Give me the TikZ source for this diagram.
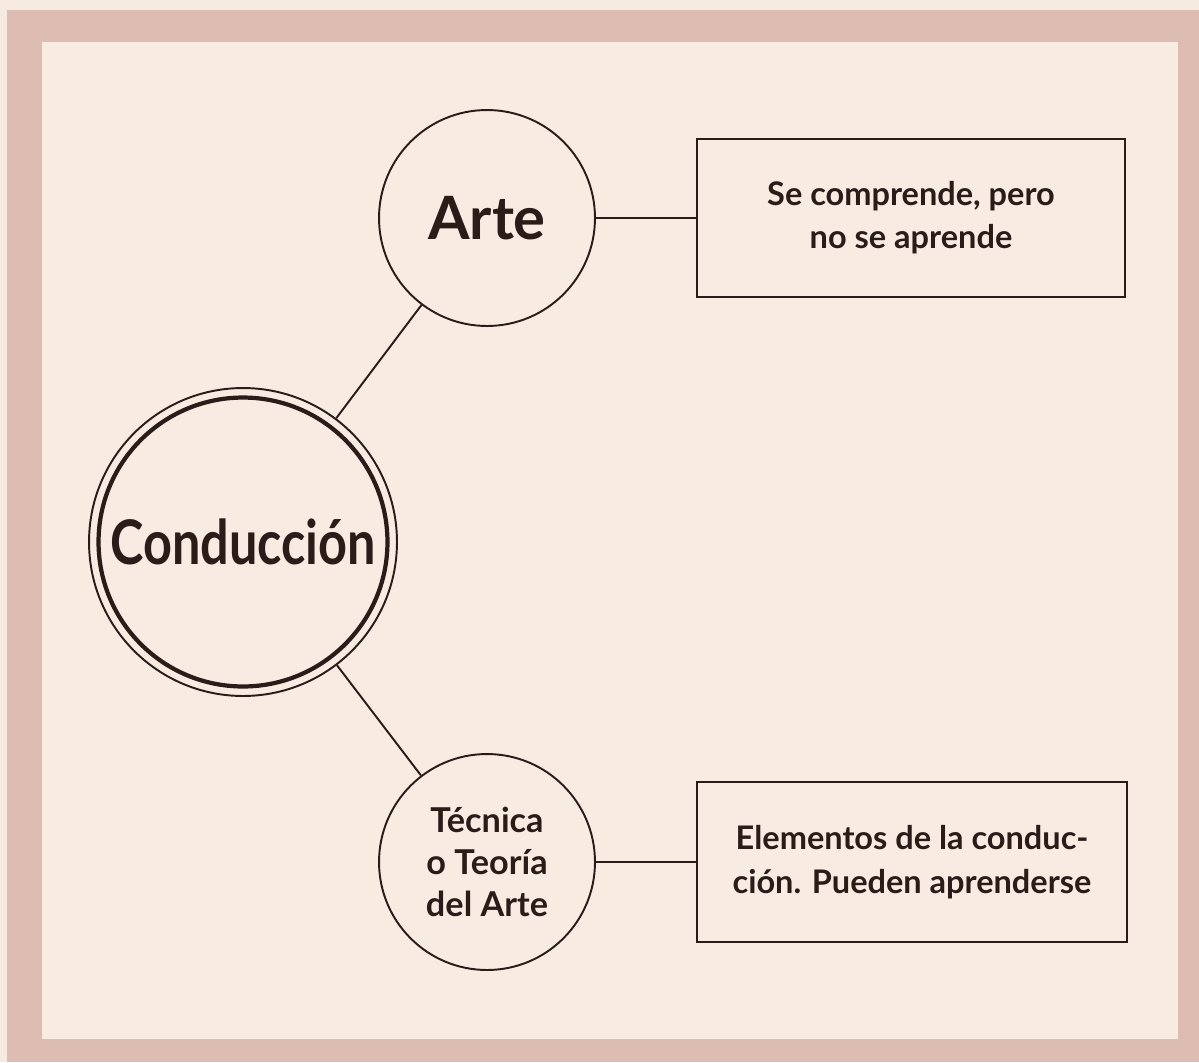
\documentclass[tikz,border=0pt]{standalone}
\usepackage{fontspec}
\setmainfont{Lato}
\newfontfamily\narrowfont[FakeStretch=0.82]{Lato}
\definecolor{inkc}{HTML}{2A1C19}
\definecolor{paperout}{HTML}{F6EAE1}
\definecolor{paperband}{HTML}{DDBDB2}
\definecolor{paperin}{HTML}{F8EBE1}

\begin{document}
\begin{tikzpicture}[
		x=0.02cm, y=-0.02cm,
		bubble/.style={circle,draw=inkc,text=inkc,line width=1.1pt,minimum size=4.32cm,inner sep=0pt,align=center},
		core/.style={circle,draw=inkc,text=inkc,line width=2.4pt,minimum size=5.78cm,inner sep=0pt},
		ring/.style={circle,draw=inkc,line width=1.1pt,minimum size=6.16cm,inner sep=0pt},
		note/.style={rectangle,draw=inkc,text=inkc,line width=1.6pt,minimum width=8.56cm,minimum height=3.16cm,align=center},
		link/.style={draw=inkc,line width=1.1pt}]
		
		% paper
		\fill[paperout]  (0,0)    rectangle (1199,1062);
		\fill[paperband] (7,10)   rectangle (1199,1062);
		\fill[paperin]   (42,42)  rectangle (1178,1039);
		
		\node[bubble,font=\bfseries\fontsize{34}{40}\selectfont] (arte) at (487,218) {Arte};
		\node[core,font=\narrowfont\bfseries\fontsize{35}{42}\selectfont] (cond) at (243,542) {Conducción};
		\node[ring] (condring) at (cond) {};
		\node[bubble,font=\bfseries\fontsize{19.5}{24}\selectfont] (tecnica) at (487,862) {Técnica\\o Teoría\\del Arte};
		
		\node[note,font=\bfseries\fontsize{18.5}{24.5}\selectfont] (comprende) at (911,218) {Se comprende, pero\\no se aprende};
		\node[note,minimum width=8.6cm,minimum height=3.2cm,font=\bfseries\fontsize{18.5}{25}\selectfont] (elementos) at (912,862) {Elementos de la conduc-\\ción. Pueden aprenderse};
		
		\draw[link] (arte) -- (comprende);
		\draw[link] (arte) -- (condring);
		\draw[link] (condring) -- (tecnica);
		\draw[link] (tecnica) -- (elementos);
		
\end{tikzpicture}
\end{document}
